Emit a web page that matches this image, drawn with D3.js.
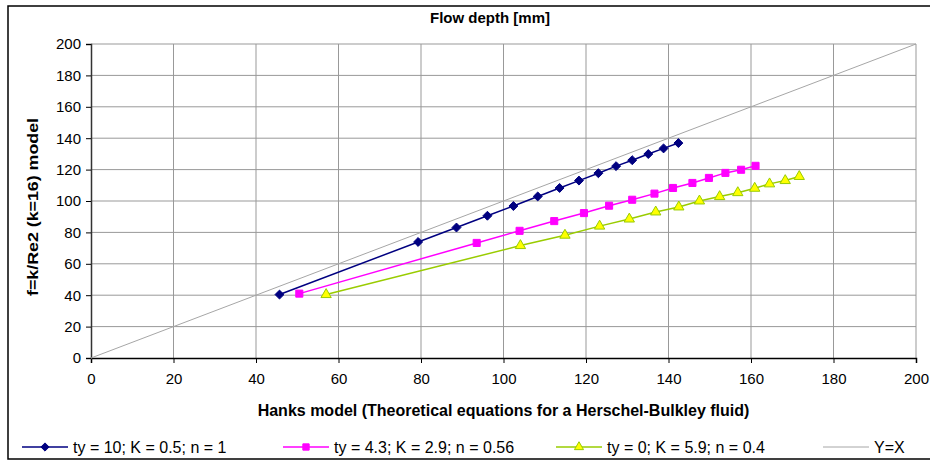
<!DOCTYPE html>
<html>
<head>
<meta charset="utf-8">
<script src="https://cdn.jsdelivr.net/npm/d3@7"></script>
<style>
  body { margin: 0; background: #fff; }
  svg { display: block; font-family: "Liberation Sans", Arial, sans-serif; }
</style>
</head>
<body>
<div id="chart"></div>
<script>
// Data.
const seriesNames = ["ty = 10; K = 0.5; n = 1", "ty = 4.3; K = 2.9; n = 0.56", "ty = 0; K = 5.9; n = 0.4", "Y=X"];

const s1x = [45.7, 79.3, 88.6, 96.1, 102.4, 108.3, 113.6, 118.3, 123.0, 127.3, 131.2, 135.1, 138.8, 142.4];
const s1y = [40.4, 73.9, 83.1, 90.6, 96.8, 102.9, 108.3, 113.0, 117.7, 122.2, 126.0, 129.9, 133.5, 136.9];

const s2x = [50.5, 93.5, 103.9, 112.3, 119.5, 125.6, 131.2, 136.6, 141.1, 145.8, 149.8, 153.8, 157.6, 161.1];
const s2y = [41.0, 73.3, 81.0, 87.2, 92.3, 97.0, 100.8, 104.7, 108.3, 111.5, 114.7, 117.9, 119.9, 122.4];

const s3x = [57.0, 104.1, 114.9, 123.3, 130.5, 136.9, 142.5, 147.5, 152.4, 156.8, 160.9, 164.5, 168.3, 171.7];
const s3y = [40.4, 71.6, 78.2, 84.0, 88.5, 93.0, 96.2, 100.0, 102.8, 105.3, 108.1, 110.9, 113.0, 115.6];

const identityX = [0, 200];
const identityY = [0, 200];

const xTicks = [0, 20, 40, 60, 80, 100, 120, 140, 160, 180, 200];
const yTicks = [0, 20, 40, 60, 80, 100, 120, 140, 160, 180, 200];

const width = 930;
const height = 461;
const margin = {top: 44, right: 14, bottom: 103, left: 91};

// Excel style diamond: a square turned 45 degrees.
const squareDiamond = {
    draw(ctx, size) {
        const r = Math.sqrt(size / 2);
        ctx.moveTo(0, -r);
        ctx.lineTo(r, 0);
        ctx.lineTo(0, r);
        ctx.lineTo(-r, 0);
        ctx.closePath();
    }
};

const svg = d3.select("#chart")
    .append("svg")
    .attr("width", width)
    .attr("height", height);

// Outer frame
svg.append("rect")
    .attr("x", 8).attr("y", 6)
    .attr("width", 930).attr("height", 453)
    .attr("fill", "#fff")
    .attr("stroke", "#000")
    .attr("stroke-width", 1.5);

const x = d3.scaleLinear().domain([0, 200]).range([margin.left, width - margin.right]);
const y = d3.scaleLinear().domain([0, 200]).range([height - margin.bottom, margin.top]);

// Gridlines
svg.append("g")
    .selectAll("line.vgrid")
    .data(xTicks.slice(1))
    .enter().append("line")
    .attr("x1", d => x(d)).attr("x2", d => x(d))
    .attr("y1", y(0)).attr("y2", y(200))
    .attr("stroke", "#999").attr("stroke-width", 1);

svg.append("g")
    .selectAll("line.hgrid")
    .data(yTicks.slice(1))
    .enter().append("line")
    .attr("x1", x(0)).attr("x2", x(200))
    .attr("y1", d => y(d)).attr("y2", d => y(d))
    .attr("stroke", "#999").attr("stroke-width", 1);

// Axes
svg.append("g")
    .attr("transform", `translate(0,${y(0)})`)
    .call(d3.axisBottom(x).tickValues(xTicks).tickSize(5).tickPadding(10))
    .call(g => g.selectAll("text").attr("font-size", "15px").attr("fill", "#000"))
    .call(g => g.select(".domain").attr("stroke", "#000").attr("stroke-width", 1.5));

svg.append("g")
    .attr("transform", `translate(${x(0)},0)`)
    .call(d3.axisLeft(y).tickValues(yTicks).tickSize(5).tickPadding(5))
    .call(g => g.selectAll("text").attr("font-size", "15px").attr("fill", "#000"))
    .call(g => g.select(".domain").attr("stroke", "#333").attr("stroke-width", 1.5));

// Y=X line
const line = d3.line().x(d => x(d[0])).y(d => y(d[1]));
svg.append("path")
    .datum(d3.zip(identityX, identityY))
    .attr("d", line)
    .attr("fill", "none")
    .attr("stroke", "#a6a6a6")
    .attr("stroke-width", 1);

const series = [
    {xs: s1x, ys: s1y, color: "#000080", fill: "#000080", stroke: "#000080", symbol: squareDiamond, size: 40},
    {xs: s2x, ys: s2y, color: "#ff00ff", fill: "#ff00ff", stroke: "#ff00ff", symbol: d3.symbolSquare, size: 50},
    {xs: s3x, ys: s3y, color: "#99cc00", fill: "#ffff00", stroke: "#99cc00", symbol: d3.symbolTriangle, size: 46}
];

series.forEach(s => {
    const pts = d3.zip(s.xs, s.ys);
    svg.append("path")
        .datum(pts)
        .attr("d", line)
        .attr("fill", "none")
        .attr("stroke", s.color)
        .attr("stroke-width", 1.5);
    svg.append("g")
        .selectAll("path")
        .data(pts)
        .enter().append("path")
        .attr("transform", d => `translate(${x(d[0])},${y(d[1])})`)
        .attr("d", d3.symbol().type(s.symbol).size(s.size))
        .attr("fill", s.fill)
        .attr("stroke", s.stroke)
        .attr("stroke-width", 1);
});

// Titles
const midX = (x(0) + x(200)) / 2;
svg.append("text")
    .attr("x", 490).attr("y", 23)
    .attr("text-anchor", "middle")
    .attr("font-size", "15px").attr("font-weight", "bold")
    .text("Flow depth [mm]");

svg.append("text")
    .attr("x", midX).attr("y", 416)
    .attr("text-anchor", "middle")
    .attr("font-size", "16px").attr("font-weight", "bold")
    .text("Hanks model (Theoretical equations for a Herschel-Bulkley fluid)");

svg.append("text")
    .attr("transform", `translate(38,207) rotate(-90)`)
    .attr("text-anchor", "middle")
    .attr("font-size", "15px").attr("font-weight", "bold")
    .attr("textLength", 178).attr("lengthAdjust", "spacingAndGlyphs")
    .text("f=k/Re2 (k=16) model");

// Legend
const legendX = [22, 283, 556, 823];
const legendY = 447;
const legendItems = [
    {color: "#000080", fill: "#000080", stroke: "#000080", symbol: squareDiamond, size: 34},
    {color: "#ff00ff", fill: "#ff00ff", stroke: "#ff00ff", symbol: d3.symbolSquare, size: 40},
    {color: "#99cc00", fill: "#ffff00", stroke: "#99cc00", symbol: d3.symbolTriangle, size: 36},
    {color: "#a6a6a6", symbol: null}
];

legendItems.forEach((it, i) => {
    const g = svg.append("g").attr("transform", `translate(${legendX[i]},${legendY})`);
    g.append("line")
        .attr("x1", 0).attr("x2", 46)
        .attr("y1", 0).attr("y2", 0)
        .attr("stroke", it.color)
        .attr("stroke-width", it.symbol ? 1.5 : 1);
    if (it.symbol) {
        g.append("path")
            .attr("transform", "translate(23,0)")
            .attr("d", d3.symbol().type(it.symbol).size(it.size))
            .attr("fill", it.fill)
            .attr("stroke", it.stroke);
    }
    g.append("text")
        .attr("x", 51).attr("y", 5.5)
        .attr("font-size", "16px")
        .text(seriesNames[i]);
});
</script>
</body>
</html>
